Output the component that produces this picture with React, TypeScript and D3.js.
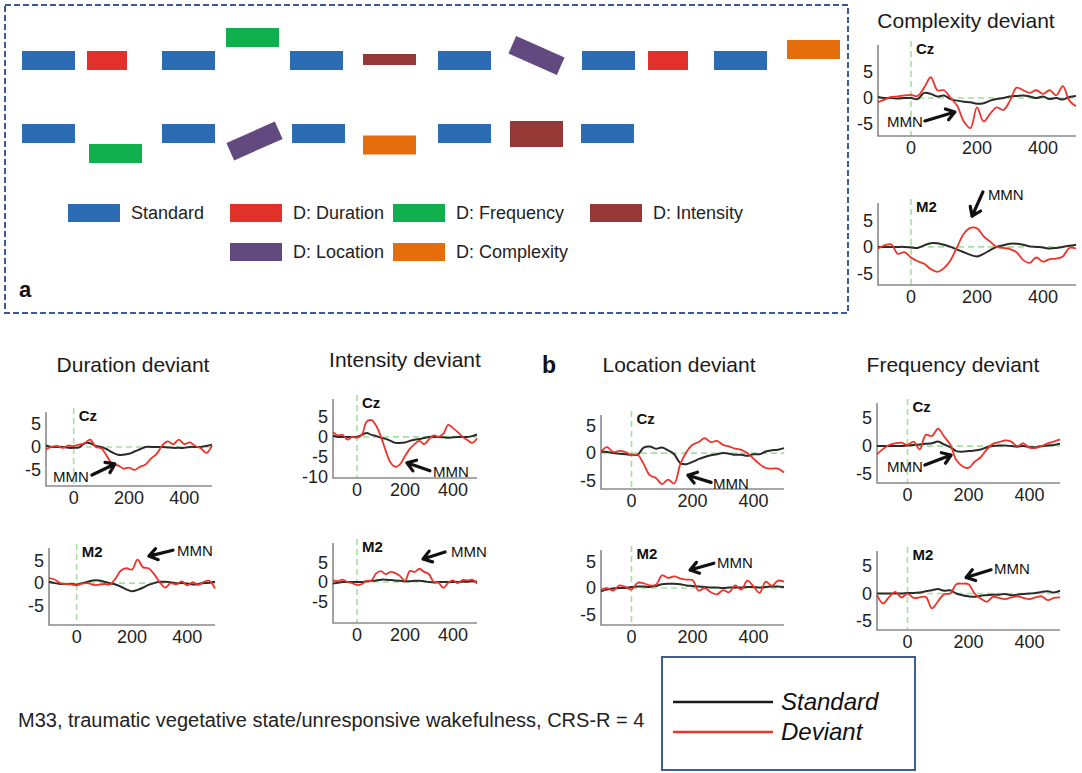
import React from "react";
import * as d3 from "d3";

const FONT = "'Liberation Sans', Arial, Helvetica, sans-serif";

// sampling grid of the ERP traces (ms)
const TIMES = [-100, -80, -60, -40, -20, 0, 20, 40, 60, 80, 100, 120, 140, 160, 180, 200, 220, 240, 260, 280, 300, 320, 340, 360, 380, 400, 420, 440, 460, 480, 500];
const X_TICKS = [0, 200, 400];

// ---- ERP values (µV) ----
const complexityCzStd = [0.2, 0, 0, -0.1, 0, 0, -0.2, 1.0, 0.8, 0.3, 0.5, -0.2, -0.5, -0.7, -0.8, -1.1, -1.0, -0.5, -0.2, 0, 0.3, 0.4, 0.5, 0.3, 0.0, 0.3, -0.2, 0, -0.3, 0.2, 0.4];
const complexityCzDev = [-0.8, -0.3, 0.2, 0.3, 0.5, 0.6, 0.4, 2.0, 4.0, 1.5, 1.5, 0.0, -1.5, -4.5, -5.8, -1.8, -4.5, -3.0, -1.8, -2.3, -0.5, 2.0, 1.5, 1.0, 1.5, 0.8, 1.5, 0.5, 2.3, -0.5, -1.6];
const complexityM2Std = [0, 0, 0, 0, 0, -0.1, -0.2, 0.3, 0.7, 0.7, 0.4, 0.0, -0.5, -1.0, -1.5, -1.8, -1.3, -0.6, 0.0, 0.3, 0.6, 0.6, 0.4, 0.1, 0.0, -0.1, -0.3, -0.2, 0.0, 0.2, 0.4];
const complexityM2Dev = [-0.3, 0.3, 0.5, -1.3, -1.0, -2.0, -2.7, -3.2, -4.2, -4.7, -4.0, -2.5, 0.0, 2.5, 3.6, 3.5, 2.0, 1.0, 0.0, -0.2, -0.4, -1.0, -2.5, -3.0, -2.0, -2.8, -2.3, -2.2, -1.8, -0.2, -0.3];

const durationCzStd = [0.3, 0, 0, 0, -0.2, -0.2, -0.1, 0.8, 0.8, 0.2, 0.0, -0.5, -1.2, -1.7, -1.7, -1.5, -1.0, -0.5, 0.0, 0.0, 0.0, 0.0, -0.1, -0.2, -0.2, -0.2, 0.0, 0.0, 0.0, 0.2, 0.5];
const durationCzDev = [-0.5, 0.0, 0.2, -0.2, 0.3, 0.2, 0.5, 0.8, 1.6, 0.0, -0.3, -2.0, -3.8, -4.0, -4.7, -4.5, -5.0, -4.3, -3.8, -2.5, -1.5, 0.3, 1.2, 0.6, 1.6, 0.6, 1.0, 0.2, -0.3, -1.3, 0.3];
const durationM2Std = [0.3, 0, -0.2, -0.2, -0.2, -0.3, 0.0, 0.3, 0.6, 0.6, 0.3, 0.0, -0.3, -0.8, -1.4, -1.8, -1.5, -1.0, -0.4, 0.0, 0.3, 0.3, 0.2, 0.0, 0.0, -0.1, -0.3, -0.2, 0.0, 0.1, 0.3];
const durationM2Dev = [1.1, 0.8, 0.0, -0.2, -0.3, -0.5, -0.1, 0.0, -0.4, -0.4, -0.2, -0.3, 1.0, 2.8, 3.3, 3.0, 5.2, 3.5, 3.3, 2.0, 0.2, -1.0, 0.0, -0.3, 0.4, -0.5, 0.2, -0.4, 0.3, 0.5, -1.2];

const intensityCzStd = [0.3, 0, 0, 0, 0, 0, 0.5, 1.0, 0.5, 0.2, -0.2, -0.5, -1.0, -1.5, -1.5, -1.4, -1.0, -0.7, -0.5, -0.3, 0.0, 0.0, 0.0, -0.1, -0.2, -0.1, 0.0, 0.0, 0.0, 0.2, 0.6];
const intensityCzDev = [1.2, 0.4, 0.5, -0.7, 0.0, -0.2, 0.5, 3.8, 4.2, 2.8, 0.0, -3.5, -6.5, -7.5, -6.8, -4.8, -3.0, -1.8, -1.0, -1.8, -0.6, 0.4, 0.0, 0.8, 3.0, 2.2, 1.2, 0.0, -0.8, -1.5, -0.4];
const intensityM2Std = [-0.4, -0.2, 0.0, 0.0, 0.0, 0.0, 0.0, 0.2, 0.3, 0.4, 0.6, 0.6, 0.5, 0.4, 0.3, 0.2, 0.2, 0.3, 0.3, 0.2, 0.0, -0.1, 0.0, 0.0, 0.0, 0.0, 0.0, 0.1, 0.1, 0.2, 0.1];
const intensityM2Dev = [0.4, 0.2, 0.6, 0.0, -0.3, -0.8, -0.5, 0.3, 0.4, 2.2, 2.8, 2.0, 2.6, 2.3, 1.5, 0.3, 2.8, 2.6, 3.4, 2.6, 2.0, 0.0, -0.2, -1.5, -0.2, 0.4, -0.3, 0.5, 0.4, 0.6, -0.4];

const locationCzStd = [0.3, 0.2, 0.0, -0.1, -0.2, -0.3, -0.3, 1.0, 1.2, 0.8, 1.0, 0.5, -0.2, -1.8, -2.0, -1.6, -1.1, -0.7, -0.4, -0.2, 0.0, -0.1, -0.3, -0.3, -0.5, -0.2, -0.2, 0.3, 0.5, 0.6, 0.9];
const locationCzDev = [0.3, 1.1, 0.2, 0.4, 0.2, -0.4, -0.3, -2.0, -4.0, -4.5, -5.6, -4.8, -5.5, -2.0, 0.2, 1.5, 2.0, 2.7, 2.0, 2.2, 1.5, 1.2, 0.8, 0.6, 0.0, -1.0, -2.0, -2.7, -2.8, -2.8, -3.5];
const locationM2Std = [-0.6, -0.3, -0.1, 0.0, 0.0, 0.2, 0.3, 0.3, 0.2, 0.4, 0.7, 0.8, 0.8, 0.7, 0.5, 0.4, 0.3, 0.2, 0.1, 0.1, 0.0, 0.1, 0.1, 0.1, 0.2, 0.2, 0.1, 0.2, 0.3, 0.3, 0.2];
const locationM2Dev = [-0.4, 0.0, -0.5, 0.5, 0.2, -0.3, 1.0, 0.9, 0.5, 0.6, 2.4, 1.9, 2.2, 1.8, 1.6, 1.5, -0.5, 0.0, -0.8, -1.2, -0.4, -0.8, 0.5, -0.3, 1.4, 0.3, -0.9, 1.2, 0.4, 1.4, 1.2];

const frequencyCzStd = [0, 0, 0, 0, 0, 0.1, 0.2, 0.3, 0.4, 0.5, 0.8, 0.3, -0.2, -0.9, -1.0, -0.9, -0.8, -0.6, -0.2, 0.0, 0.1, 0.1, 0.0, -0.1, 0.0, -0.2, -0.2, 0.0, 0.1, 0.2, 0.4];
const frequencyCzDev = [-1.5, -0.5, 0.2, 0.5, 0.6, 0.2, 0.8, -0.6, 2.0, 1.8, 3.1, 1.7, 0.3, -2.5, -3.6, -3.9, -2.8, -2.0, -0.6, 0.4, 0.7, 1.0, 0.8, 0.0, 0.5, -0.3, -0.3, 0.0, 0.5, 0.8, 1.2];
const frequencyM2Std = [0, 0, 0, 0, 0, 0.1, 0.1, 0.2, 0.4, 0.6, 0.8, 0.5, 0.6, 0.0, -0.3, -0.5, -0.6, -0.4, -0.3, -0.2, -0.2, -0.1, -0.3, -0.2, -0.1, 0.0, 0.1, 0.3, 0.4, 0.2, 0.5];
const frequencyM2Dev = [-0.3, -1.8, -0.6, 0.3, -0.7, 0.0, -0.8, -0.7, -0.6, -2.7, -1.4, -0.1, 0.0, 1.7, 1.8, 1.7, 0.0, -0.9, -1.5, -0.6, -0.8, -1.0, -0.7, -0.5, -0.8, -1.0, -0.7, -0.5, -1.2, -0.8, -0.7];

// MMN annotations in data coordinates: [label t, label µV, arrow tail t, µV, arrow head t, µV]
const mmnComplexityCz = [-73, -4.6, 42, -4.4, 133, -2.7];
const mmnComplexityM2 = [233, 9.8, 218, 10.4, 185, 5.8];
const mmnDurationCz = [-75, -6.5, 66, -6.1, 149, -3.7];
const mmnDurationM2 = [363, 7.3, 348, 7.3, 261, 6.0];
const mmnIntensityCz = [317, -8.75, 304, -8.5, 208, -6.5];
const mmnIntensityM2 = [392, 7.7, 367, 7.7, 275, 5.9];
const mmnLocationCz = [267, -5.5, 261, -5.3, 185, -4.0];
const mmnLocationM2 = [280, 4.7, 270, 4.7, 192, 3.4];
const mmnFrequencyCz = [-67, -3.75, 57, -3.4, 143, -1.6];
const mmnFrequencyM2 = [284, 4.5, 274, 4.3, 192, 2.9];

// ---- panel a: stimulus sequence ----
const STIM_TYPES = ["Standard", "Duration", "Frequency", "Intensity", "Location", "Complexity"];
const STIM_LABELS = ["Standard", "D: Duration", "D: Frequency", "D: Intensity", "D: Location", "D: Complexity"];
const STIM_COLORS = ["#2b6cb3", "#e2302a", "#10b04f", "#963836", "#624a80", "#e56d0c"];

// onsets (arbitrary timeline units) and variants of each stimulus
const row1Types = ["Standard", "Duration", "Standard", "Frequency", "Standard", "Intensity", "Standard", "Location", "Standard", "Duration", "Standard", "Complexity"];
const row1Onsets = [0, 65, 140, 204, 268, 341, 416, 488, 560, 626, 692, 765];
const row1Variants = ["", "", "", "up", "", "down", "", "up", "", "", "", "up"];
const row2Types = ["Standard", "Frequency", "Standard", "Location", "Standard", "Complexity", "Standard", "Intensity", "Standard"];
const row2Onsets = [0, 67, 140, 206, 270, 341, 416, 488, 559];
const row2Variants = ["", "down", "", "down", "", "down", "", "up", ""];

const stimShape = (type: string, variant: string) => {
  const s = { w: 53, h: 19, dy: 0, rot: 0 };
  if (type === "Duration") s.w = 40;
  if (type === "Frequency") s.dy = variant === "up" ? -23 : 20;
  if (type === "Intensity") { s.h = variant === "up" ? 26 : 11; s.dy = variant === "up" ? 0.5 : -1; }
  if (type === "Location") { s.rot = variant === "up" ? 24 : -24; s.dy = variant === "up" ? -5 : 7.5; }
  if (type === "Complexity") s.dy = variant === "up" ? -11 : 11.5;
  return s;
};

type Plot = {
  ch: string; std: number[]; dev: number[]; mmn: number[];
  x0: number; x1: number; top: number; bottom: number; dom: [number, number]; yTicks: number[];
};

const PLOTS: Plot[] = [
  { ch: "Cz", std: complexityCzStd, dev: complexityCzDev, mmn: mmnComplexityCz, x0: 878, x1: 1076, top: 45, bottom: 136, dom: [-7.3, 10.2], yTicks: [5, 0, -5] },
  { ch: "M2", std: complexityM2Std, dev: complexityM2Dev, mmn: mmnComplexityM2, x0: 878, x1: 1076, top: 203, bottom: 285, dom: [-7.2, 8.3], yTicks: [5, 0, -5] },
  { ch: "Cz", std: durationCzStd, dev: durationCzDev, mmn: mmnDurationCz, x0: 46, x1: 212, top: 412, bottom: 486, dom: [-8.5, 7.6], yTicks: [5, 0, -5] },
  { ch: "M2", std: durationM2Std, dev: durationM2Dev, mmn: mmnDurationM2, x0: 49, x1: 215, top: 548, bottom: 625, dom: [-9.3, 7.8], yTicks: [5, 0, -5] },
  { ch: "Cz", std: intensityCzStd, dev: intensityCzDev, mmn: mmnIntensityCz, x0: 333, x1: 477, top: 399, bottom: 478, dom: [-10.3, 9.5], yTicks: [5, 0, -5, -10] },
  { ch: "M2", std: intensityM2Std, dev: intensityM2Dev, mmn: mmnIntensityM2, x0: 333, x1: 477, top: 543, bottom: 623, dom: [-10.5, 10], yTicks: [5, 0, -5] },
  { ch: "Cz", std: locationCzStd, dev: locationCzDev, mmn: mmnLocationCz, x0: 601, x1: 784, top: 415, bottom: 489, dom: [-6.5, 6.9], yTicks: [5, 0, -5] },
  { ch: "M2", std: locationM2Std, dev: locationM2Dev, mmn: mmnLocationM2, x0: 601, x1: 784, top: 550, bottom: 625, dom: [-7.0, 7.2], yTicks: [5, 0, -5] },
  { ch: "Cz", std: frequencyCzStd, dev: frequencyCzDev, mmn: mmnFrequencyCz, x0: 877, x1: 1060, top: 403, bottom: 483, dom: [-6.6, 7.7], yTicks: [5, 0, -5] },
  { ch: "M2", std: frequencyM2Std, dev: frequencyM2Dev, mmn: mmnFrequencyM2, x0: 877, x1: 1060, top: 551, bottom: 630, dom: [-6.6, 7.7], yTicks: [5, 0, -5] },
];

const TITLES = [
  { text: "Complexity deviant", x: 966, y: 28 },
  { text: "Duration deviant", x: 133, y: 372 },
  { text: "Intensity deviant", x: 405, y: 367 },
  { text: "Location deviant", x: 679, y: 372 },
  { text: "Frequency deviant", x: 953, y: 372 },
];

const Arrow = ({ x1, y1, x2, y2 }: { x1: number; y1: number; x2: number; y2: number }) => {
  const a = Math.atan2(y2 - y1, x2 - x1);
  const L = 10;
  const h1 = [x2 - L * Math.cos(a - 0.6), y2 - L * Math.sin(a - 0.6)];
  const h2 = [x2 - L * Math.cos(a + 0.6), y2 - L * Math.sin(a + 0.6)];
  return (
    <path
      d={`M${x1},${y1}L${x2},${y2}M${h1[0]},${h1[1]}L${x2},${y2}L${h2[0]},${h2[1]}`}
      fill="none" stroke="#111" strokeWidth={3.2} strokeLinecap="round" strokeLinejoin="round"
    />
  );
};

const ErpPlot = ({ p }: { p: Plot }) => {
  const x = d3.scaleLinear().domain([-100, 500]).range([p.x0, p.x1]);
  const y = d3.scaleLinear().domain(p.dom).range([p.bottom, p.top]);
  const line = d3.line<number>()
    .x((_, i) => x(TIMES[i]))
    .y((d) => y(d))
    .curve(d3.curveCatmullRom.alpha(0.5));
  const [lt, lv, at, av, ht, hv] = p.mmn;
  return (
    <g fontFamily={FONT}>
      {/* green zero lines */}
      <line x1={x(-100)} x2={x(500)} y1={y(0)} y2={y(0)} stroke="#a6dfa0" strokeWidth={1.6} strokeDasharray="6,4" />
      <line x1={x(0)} x2={x(0)} y1={p.top - 4} y2={p.bottom} stroke="#a6dfa0" strokeWidth={1.6} strokeDasharray="6,4" />
      {/* axes */}
      <path d={`M${p.x0},${p.top}V${p.bottom}H${p.x1}`} fill="none" stroke="#8a8a8a" strokeWidth={1.6} />
      {p.yTicks.map((t) => (
        <text key={t} x={p.x0 - 5} y={y(t)} dy="0.35em" textAnchor="end" fontSize={18} fill="#222">{t}</text>
      ))}
      {X_TICKS.map((t) => (
        <text key={t} x={x(t)} y={p.bottom + 18} textAnchor="middle" fontSize={18} fill="#222">{t}</text>
      ))}
      <path d={line(p.std) || ""} fill="none" stroke="#2a2a2a" strokeWidth={2} />
      <path d={line(p.dev) || ""} fill="none" stroke="#ee3329" strokeWidth={1.8} />
      <text x={x(0) + 5} y={p.top + 4} dy="0.35em" fontSize={15} fontWeight="bold" fill="#111">{p.ch}</text>
      <text x={x(lt)} y={y(lv)} dy="0.35em" fontSize={15} fill="#111">MMN</text>
      <Arrow x1={x(at)} y1={y(av)} x2={x(ht)} y2={y(hv)} />
    </g>
  );
};

const StimRow = ({ types, onsets, variants, cy }: { types: string[]; onsets: number[]; variants: string[]; cy: number }) => {
  const sx = d3.scaleLinear().domain([0, 765]).range([22, 787]);
  return (
    <g>
      {types.map((t, i) => {
        const s = stimShape(t, variants[i]);
        const cx = sx(onsets[i]) + s.w / 2;
        const c = cy + s.dy;
        return (
          <rect key={i} x={-s.w / 2} y={-s.h / 2} width={s.w} height={s.h}
            fill={STIM_COLORS[STIM_TYPES.indexOf(t)]}
            transform={`translate(${cx},${c}) rotate(${s.rot})`} />
        );
      })}
    </g>
  );
};

const LEGEND_X = [68, 230, 393, 590, 230, 393];
const LEGEND_ROW = [0, 0, 0, 0, 1, 1];

export default function App() {
  return (
    <svg width={1082} height={773} style={{ position: "absolute", left: 0, top: 0, background: "#fff" }} fontFamily={FONT}>
      {/* panel a */}
      <rect x={5} y={5} width={843} height={308} fill="none" stroke="#3c5b93" strokeWidth={2} strokeDasharray="6,3" />
      <StimRow types={row1Types} onsets={row1Onsets} variants={row1Variants} cy={60.5} />
      <StimRow types={row2Types} onsets={row2Onsets} variants={row2Variants} cy={133.5} />
      {STIM_LABELS.map((lab, i) => {
        const yy = 204 + LEGEND_ROW[i] * 39;
        return (
          <g key={lab}>
            <rect x={LEGEND_X[i]} y={yy} width={52} height={18} fill={STIM_COLORS[i]} />
            <text x={LEGEND_X[i] + 63} y={yy + 9} dy="0.35em" fontSize={18} fill="#222">{lab}</text>
          </g>
        );
      })}
      <text x={19} y={297} fontSize={22} fontWeight="bold" fill="#111">a</text>
      <text x={542} y={373} fontSize={23} fontWeight="bold" fill="#111">b</text>

      {TITLES.map((t) => (
        <text key={t.text} x={t.x} y={t.y} textAnchor="middle" fontSize={21} fill="#1a1a1a">{t.text}</text>
      ))}
      {PLOTS.map((p, i) => <ErpPlot key={i} p={p} />)}

      <text x={18} y={727} fontSize={20} fill="#222">M33, traumatic vegetative state/unresponsive wakefulness, CRS-R = 4</text>

      {/* legend */}
      <rect x={662} y={657} width={253} height={113} fill="none" stroke="#3d5f95" strokeWidth={2} />
      <line x1={673} x2={773} y1={702} y2={702} stroke="#1a1a1a" strokeWidth={2.5} />
      <text x={781} y={702} dy="0.35em" fontSize={24} fontStyle="italic" fill="#111">Standard</text>
      <line x1={673} x2={773} y1={732} y2={732} stroke="#ee3329" strokeWidth={2.5} />
      <text x={781} y={732} dy="0.35em" fontSize={24} fontStyle="italic" fill="#111">Deviant</text>
    </svg>
  );
}
